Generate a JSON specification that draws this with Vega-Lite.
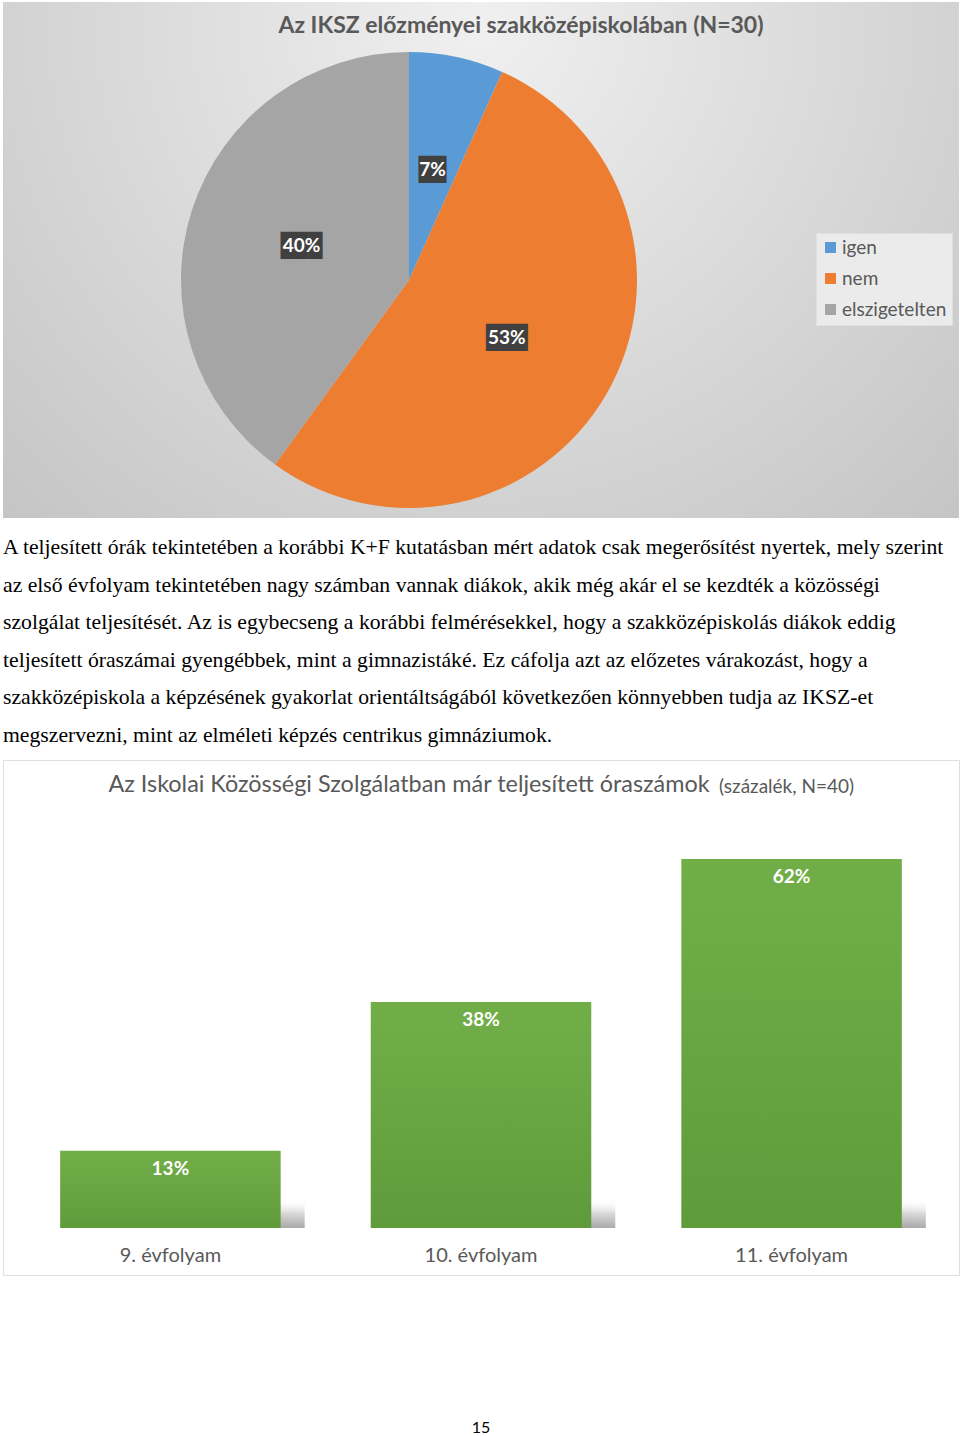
{
  "$schema": "https://vega.github.io/schema/vega-lite/v6.json",
  "padding": {"left": 2, "top": 2, "right": 0, "bottom": 0},
  "spacing": 0,
  "bounds": "flush",
  "background": "#ffffff",
  "config": {"view": {"stroke": null}, "font": "Lato"},
  "vconcat": [
    {
      "width": 812,
      "height": 556,
      "title": {
        "text": "Az IKSZ előzményei szakközépiskolában (N=30)",
        "font": "Lato", "fontSize": 23, "fontWeight": "bold", "color": "#595959",
        "anchor": "middle", "dx": 112, "offset": -36
      },
      "data": {"values": [
        {"cat": "igen", "pct": 6.7, "label": "7%", "rank": 1},
        {"cat": "nem", "pct": 53.3, "label": "53%", "rank": 2},
        {"cat": "elszigetelten", "pct": 40.0, "label": "40%", "rank": 3}
      ]},
      "layer": [
        {
          "data": {"values": [{"bg": 1}]},
          "mark": {"type": "rect", "fill": {"gradient": "radial", "x1": 0.5, "y1": 0.25, "r1": 0, "x2": 0.5, "y2": 0.25, "r2": 0.8,
            "stops": [{"offset": 0, "color": "#f0f0f0"}, {"offset": 1, "color": "#c0c0c0"}]}},
          "encoding": {
            "x": {"datum": 0, "type": "quantitative", "scale": {"domain": [0, 1], "nice": false, "zero": false}, "axis": null},
            "x2": {"datum": 1.1773},
            "y": {"datum": 1, "type": "quantitative", "scale": {"domain": [0, 1], "nice": false, "zero": false}, "axis": null},
            "y2": {"datum": 0.0719}
          }
        },
        {
          "mark": {"type": "arc", "outerRadius": 228},
          "encoding": {
            "theta": {"field": "pct", "type": "quantitative", "stack": true},
            "order": {"field": "rank", "type": "quantitative"},
            "color": {
              "field": "cat", "type": "nominal",
              "scale": {"domain": ["igen", "nem", "elszigetelten"], "range": ["#5b9bd5", "#ed7d31", "#a5a5a5"]},
              "legend": {
                "orient": "none", "legendX": 813, "legendY": 231, "title": null,
                "fillColor": "#ebebeb", "strokeColor": "#e0e0e0", "padding": 5,
                "symbolType": "square", "symbolSize": 120, "symbolStrokeWidth": 0,
                "labelFont": "Lato", "labelFontSize": 19, "labelColor": "#595959",
                "rowPadding": 11, "labelOffset": 2
              }
            }
          }
        },
        {
          "mark": {"type": "text", "radius": 113, "font": "DejaVu Sans Mono", "fontSize": 23, "fill": "#404040", "baseline": "middle", "align": "center", "dy": 1},
          "encoding": {
            "theta": {"field": "pct", "type": "quantitative", "stack": true},
            "order": {"field": "rank", "type": "quantitative"},
            "detail": {"field": "cat", "type": "nominal"},
            "text": {"condition": {"test": "datum.cat === 'igen'", "value": "██"}, "value": "███"}
          }
        },
        {
          "mark": {"type": "text", "radius": 113, "font": "Lato", "fontSize": 19, "fontWeight": "bold", "fill": "#ffffff", "baseline": "middle", "align": "center", "dy": 1},
          "encoding": {
            "theta": {"field": "pct", "type": "quantitative", "stack": true},
            "order": {"field": "rank", "type": "quantitative"},
            "detail": {"field": "cat", "type": "nominal"},
            "text": {"field": "label"}
          }
        }
      ]
    },
    {
      "width": 956,
      "height": 202,
      "data": {"values": [
        {"line": 1, "text": "A teljesített órák tekintetében a korábbi K+F kutatásban mért adatok csak megerősítést nyertek, mely szerint"},
        {"line": 2, "text": "az első évfolyam tekintetében nagy számban vannak diákok, akik még akár el se kezdték a közösségi"},
        {"line": 3, "text": "szolgálat teljesítését. Az is egybecseng a korábbi felmérésekkel, hogy a szakközépiskolás diákok eddig"},
        {"line": 4, "text": "teljesített óraszámai gyengébbek, mint a gimnazistáké. Ez cáfolja azt az előzetes várakozást, hogy a"},
        {"line": 5, "text": "szakközépiskola a képzésének gyakorlat orientáltságából következően könnyebben tudja az IKSZ-et"},
        {"line": 6, "text": "megszervezni, mint az elméleti képzés centrikus gimnáziumok."}
      ]},
      "mark": {"type": "text", "font": "Liberation Serif", "fontSize": 21.7, "align": "left", "baseline": "middle", "fill": "#000000"},
      "encoding": {
        "x": {"datum": 0, "type": "quantitative", "scale": {"domain": [0, 1], "nice": false, "zero": false}, "axis": null},
        "y": {"field": "line", "type": "quantitative", "scale": {"domain": [1.2926, 6.6649], "reverse": true, "nice": false, "zero": false}, "axis": null},
        "text": {"field": "text"}
      }
    },
    {
      "width": 956,
      "height": 515,
      "view": {"stroke": "#dedede", "fill": "#ffffff"},
      "title": {
        "text": "Az Iskolai Közösségi Szolgálatban már teljesített óraszámok",
        "font": "Lato", "fontSize": 23.4, "fontWeight": "normal", "color": "#595959",
        "anchor": "middle", "dx": -72, "offset": -37
      },
      "data": {"values": [
        {"cat": "9. évfolyam", "pct": 13, "label": "13%"},
        {"cat": "10. évfolyam", "pct": 38, "label": "38%"},
        {"cat": "11. évfolyam", "pct": 62, "label": "62%"}
      ]},
      "encoding": {
        "x": {
          "field": "cat", "type": "nominal", "sort": null,
          "scale": {"paddingInner": 0.29, "paddingOuter": 0.184},
          "axis": {"orient": "bottom", "offset": -20, "domain": false, "ticks": false, "labelPadding": 0,
            "labelBaseline": "middle", "labelFont": "Lato", "labelFontSize": 20, "labelColor": "#595959",
            "title": null, "labelAngle": 0, "grid": false}
        }
      },
      "layer": [
        {
          "mark": {"type": "bar", "xOffset": 24, "fill": {"gradient": "linear", "x1": 0.89, "y1": 1, "x2": 1, "y2": 0.35,
            "stops": [{"offset": 0, "color": "#a8a8a8"}, {"offset": 0.5, "color": "#d8d8d8"}, {"offset": 1, "color": "rgba(255,255,255,0)"}]}},
          "encoding": {
            "y": {"datum": 7.5, "type": "quantitative", "axis": null},
            "y2": {"datum": 0}
          }
        },
        {
          "mark": {"type": "bar", "fill": {"gradient": "linear", "x1": 0, "y1": 0, "x2": 0, "y2": 1,
            "stops": [{"offset": 0, "color": "#72ae48"}, {"offset": 1, "color": "#5f9b3b"}]}},
          "encoding": {
            "y": {"field": "pct", "type": "quantitative", "scale": {"domain": [-7.9, 78.66], "nice": false, "zero": false}, "axis": null},
            "y2": {"datum": 0}
          }
        },
        {
          "mark": {"type": "text", "dy": 18, "font": "Lato", "fontSize": 19, "fontWeight": "bold", "fill": "#ffffff", "baseline": "middle"},
          "encoding": {
            "y": {"field": "pct", "type": "quantitative", "axis": null},
            "text": {"field": "label"}
          }
        },
        {
          "transform": [{"filter": "datum.cat === '11. évfolyam'"}],
          "mark": {"type": "text", "dx": -5, "font": "Lato", "fontSize": 19, "fill": "#595959", "baseline": "middle", "text": "(százalék, N=40)"},
          "encoding": {
            "y": {"datum": 74.2, "type": "quantitative", "axis": null}
          }
        }
      ]
    },
    {
      "width": 956,
      "height": 161,
      "data": {"values": [{"p": "15"}]},
      "mark": {"type": "text", "font": "Lato", "fontSize": 16, "fill": "#000000", "baseline": "middle"},
      "encoding": {
        "x": {"datum": 0.5, "type": "quantitative", "scale": {"domain": [0, 1], "nice": false, "zero": false}, "axis": null},
        "y": {"datum": 0.05, "type": "quantitative", "scale": {"domain": [0, 1], "nice": false, "zero": false}, "axis": null},
        "text": {"field": "p"}
      }
    }
  ]
}
